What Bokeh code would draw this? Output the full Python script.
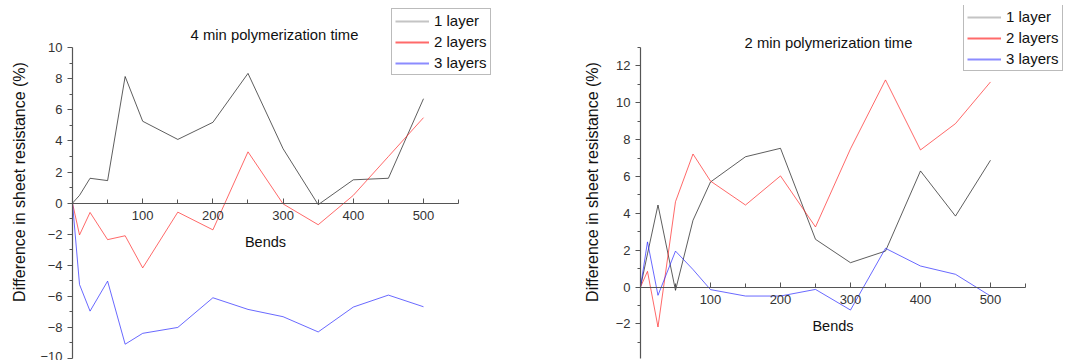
from bokeh.plotting import figure
from bokeh.layouts import row
from bokeh.models import FixedTicker, Range1d, Legend, LegendItem, Label
from bokeh.embed import file_html
from bokeh.resources import INLINE

# ---- data ----
bends = [0, 10, 25, 50, 75, 100, 150, 200, 250, 300, 350, 400, 450, 500]

# 4 min polymerization time
a_layer1 = [0, 0.5, 1.6, 1.45, 8.15, 5.27, 4.1, 5.2, 8.35, 3.5, -0.1, 1.5, 1.6, 6.72]
a_layer2 = [0, -2.05, -0.6, -2.35, -2.1, -4.17, -0.58, -1.72, 3.3, -0.05, -1.39, 0.5, 3.0, 5.5]
a_layer3 = [0, -5.24, -6.95, -5.02, -9.08, -8.38, -8.0, -6.09, -6.84, -7.31, -8.29, -6.69, -5.92, -6.67]

# 2 min polymerization time
b_layer1 = [0, 1.8, 4.45, -0.18, 3.62, 5.7, 7.07, 7.53, 2.59, 1.32, 1.95, 6.3, 3.85, 6.88]
b_layer2 = [0, 0.85, -2.17, 4.63, 7.22, 5.75, 4.45, 6.03, 3.26, 7.5, 11.24, 7.44, 8.87, 11.13]
b_layer3 = [0, 2.45, -0.45, 1.95, 0.95, -0.14, -0.49, -0.49, -0.13, -1.25, 2.1, 1.14, 0.69, -0.49]

series_names = ["1 layer", "2 layers", "3 layers"]
series_colors = ["#111111", "#ff2020", "#2020ff"]
legend_colors = ["#c4c4c4", "#ff6a6a", "#8c8cff"]

x_major = [100, 200, 300, 400, 500]
x_minor = [0, 50, 150, 250, 350, 450, 550]
x_bounds = (0, 550)
a_y_major = [-10, -8, -6, -4, -2, 0, 2, 4, 6, 8, 10]
a_y_minor = [-9, -7, -5, -3, -1, 1, 3, 5, 7, 9]
a_y_bounds = (-10, 10)
b_y_major = [-4, -2, 0, 2, 4, 6, 8, 10, 12]
b_y_minor = [-3, -1, 1, 3, 5, 7, 9, 11, 13]
b_y_bounds = (-4, 13)

NAN = float("nan")
FONT = "Liberation Sans"


def make(title, ys, xr, yr, ymaj, ymin, ybounds, width, mleft, mright, title_pos, leg_loc, ylab_standoff):
    p = figure(width=width, height=360, x_range=Range1d(*xr), y_range=Range1d(*yr),
               output_backend="svg", toolbar_location=None,
               min_border_left=mleft, min_border_right=mright,
               min_border_top=5, min_border_bottom=2)
    p.outline_line_color = None
    p.grid.visible = False
    p.background_fill_color = "white"
    p.border_fill_color = "white"

    xa = p.xaxis[0]
    xa.fixed_location = 0
    xa.bounds = x_bounds
    xa.ticker = FixedTicker(ticks=x_major, minor_ticks=x_minor)
    xa.major_tick_in = 5
    xa.major_tick_out = 0
    xa.minor_tick_in = 4
    xa.minor_tick_out = 0
    xa.major_label_standoff = 8
    xa.axis_label = "Bends"
    xa.axis_label_standoff = 10
    xa.axis_label_text_font_size = "14.5px"

    ya = p.yaxis[0]
    ya.bounds = ybounds
    ya.ticker = FixedTicker(ticks=ymaj, minor_ticks=ymin)
    ya.major_tick_out = 5
    ya.major_tick_in = 0
    ya.minor_tick_out = 3
    ya.minor_tick_in = 0
    ya.axis_label = "Difference in sheet resistance (%)"
    ya.axis_label_standoff = ylab_standoff
    ya.axis_label_text_font_size = "16px"

    for ax in (xa, ya):
        ax.axis_line_color = "#555555"
        ax.axis_line_width = 1.2
        ax.major_tick_line_color = "#555555"
        ax.minor_tick_line_color = "#555555"
        ax.major_label_text_font = FONT
        ax.major_label_text_font_size = "13px"
        ax.major_label_text_color = "#333333"
        ax.axis_label_text_font = FONT
        ax.axis_label_text_font_style = "normal"
        ax.axis_label_text_color = "#111111"

    p.add_layout(Label(x=title_pos[0], y=title_pos[1], x_units="screen", y_units="screen",
                       text=title, text_align="center", text_baseline="middle",
                       text_font=FONT, text_font_size="14.8px", text_color="#111111"))

    for col, y in zip(series_colors, ys):
        p.line(bends, y, line_color=col, line_width=0.8, line_alpha=0.85)

    items = []
    for name, lcol in zip(series_names, legend_colors):
        r = p.line(x=[NAN], y=[NAN], line_color=lcol, line_width=2)
        items.append(LegendItem(label=name, renderers=[r]))

    leg = Legend(items=items, location=leg_loc)
    leg.label_text_font = FONT
    leg.label_text_font_size = "15px"
    leg.label_text_color = "#111111"
    leg.border_line_color = "#777777"
    leg.border_line_width = 1
    leg.background_fill_color = "white"
    leg.background_fill_alpha = 1
    leg.glyph_width = 34
    leg.glyph_height = 16
    leg.label_height = 16
    leg.spacing = 4
    leg.padding = 3
    leg.margin = 0
    leg.label_standoff = 5
    p.add_layout(leg)
    return p


p1 = make("4 min polymerization time", [a_layer1, a_layer2, a_layer3],
          (0, 609.7), (-10.0, 12.72), a_y_major, a_y_minor, a_y_bounds,
          580, 72, 80, (202, 324), (319, 283), 9)
p2 = make("2 min polymerization time", [b_layer1, b_layer2, b_layer3],
          (0, 608.6), (-3.88, 15.28), b_y_major, b_y_minor, b_y_bounds,
          486, 60, 0, (188, 316), (323, 287), 12)

layout = row(p1, p2)
open("out.html", "w").write(file_html(layout, INLINE))
